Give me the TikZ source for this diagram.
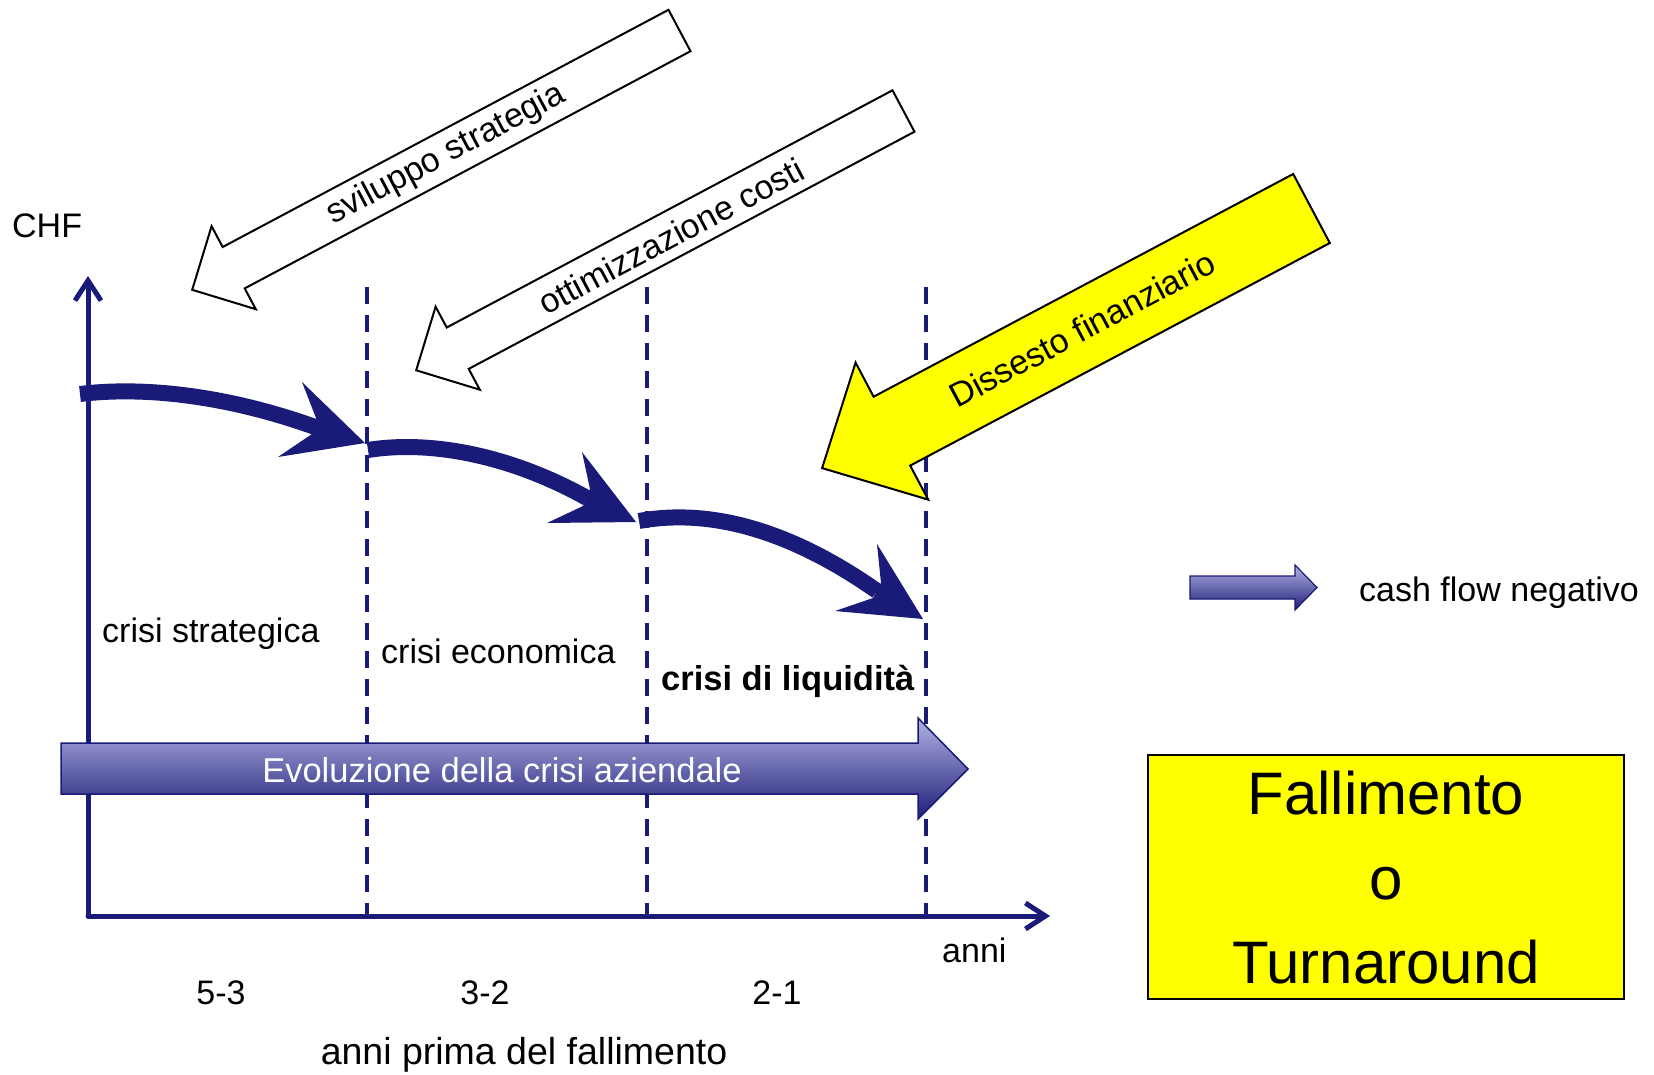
\documentclass[tikz,border=0pt]{standalone}
\usepackage{fontspec}
\setmainfont{Liberation Sans}
\usetikzlibrary{arrows.meta}
\definecolor{navy}{RGB}{26,26,120}
\definecolor{evtop}{RGB}{178,178,228}
\definecolor{evbot}{RGB}{30,30,120}
\definecolor{yel}{RGB}{255,255,0}
\begin{document}
\begin{tikzpicture}[x=1pt,y=-1pt,
  lbl/.style={inner sep=0pt, font=\fontsize{34}{40}\selectfont},
  biglbl/.style={inner sep=0pt, font=\fontsize{60}{70}\selectfont},
  axisline/.style={draw=navy, line width=5pt, line cap=round, line join=round,
    -{Straight Barb[length=20pt,width=26pt]}},
  divider/.style={draw=navy, line width=4.3pt, dash pattern=on 17pt off 11pt},
  flowshaft/.style={draw=navy, line width=16pt},
  flowhead/.style={fill=navy},
  blockarrow/.style={draw=black, line width=2pt, line join=miter},
  bigarrow/.style={draw=navy, line width=1.5pt, top color=evtop, bottom color=evbot},
]
\useasboundingbox (0,0) rectangle (1654,1074);

% axes
\coordinate (O) at (88,916);
\coordinate (Ytop) at (88,276);
\coordinate (Xend) at (1050,916);
\draw[axisline] (O) -- (Ytop);
\draw[axisline] (O) -- (Xend);

% dividers
\coordinate (d1t) at (367,287); \coordinate (d1b) at (367,916);
\coordinate (d2t) at (647,287); \coordinate (d2b) at (647,916);
\coordinate (d3t) at (926,287); \coordinate (d3b) at (926,916);
\draw[divider] (d1t) -- (d1b);
\draw[divider] (d2t) -- (d2b);
\draw[divider] (d3t) -- (d3b);

% cash-flow curved arrows
\coordinate (s1) at (80,394);  \coordinate (e1) at (315,427);
\draw[flowshaft] (s1) .. controls (155,385) and (240,400) .. (e1);
\fill[flowhead] (365,443) -- (302,382) -- (316,418) -- (312,434) -- (278,457) -- cycle;

\coordinate (s2) at (368,450); \coordinate (e2) at (587,498);
\draw[flowshaft] (s2) .. controls (430,440) and (510,455) .. (e2);
\fill[flowhead] (636,522) -- (582,452) -- (590,489) -- (583,506) -- (547,523) -- cycle;

\coordinate (s3) at (639,521); \coordinate (e3) at (877,591);
\draw[flowshaft] (s3) .. controls (710,508) and (790,530) .. (e3);
\fill[flowhead] (923,619) -- (877,544) -- (881,583) -- (873,598) -- (835,611) -- cycle;

% evolution arrow
\draw[bigarrow] (61,743) -- (918,743) -- (918,718) -- (968,769) -- (918,819) -- (918,794) -- (61,794) -- cycle;
\node[lbl, text=white, anchor=base, font=\fontsize{34.5}{40}\selectfont] (evo) at (502,782) {Evoluzione della crisi aziendale};

% legend arrow
\draw[bigarrow, line width=1.2pt] (1190,576) -- (1295,576) -- (1295,565) -- (1317,587.5) -- (1295,610) -- (1295,599) -- (1190,599) -- cycle;
\node[lbl, anchor=base west] (cfn) at (1359,601) {cash flow negativo};

% white block arrows
\draw[blockarrow, fill=white] (668.5,9.8) -- (690.5,51.2) -- (244.7,288.4) -- (255.8,309.2) -- (192.2,289.8) -- (211.6,226.2) -- (222.7,247.0) -- cycle;
\node[lbl, rotate=28] (svs) at (446,155) {sviluppo strategia};

\draw[blockarrow, fill=white] (892.5,90.3) -- (914.5,131.7) -- (468.7,368.9) -- (479.8,389.7) -- (416.2,370.3) -- (435.6,306.7) -- (446.7,327.5) -- cycle;
\node[lbl, rotate=28] (ott) at (671,236) {ottimizzazione costi};

% yellow block arrow
\draw[blockarrow, fill=yel] (1293.2,174.0) -- (1329.8,243.0) -- (910.2,465.6) -- (928.2,499.6) -- (822.1,468.1) -- (855.6,362.6) -- (873.6,396.7) -- cycle;
\node[lbl, rotate=28] (dis) at (1082,329) {Dissesto finanziario};

% labels
\node[lbl, anchor=base west] (chf) at (12,237) {CHF};
\node[lbl, anchor=base west] (cs) at (102,642) {crisi strategica};
\node[lbl, anchor=base west] (ce) at (381,663) {crisi economica};
\node[lbl, anchor=base west, font=\fontsize{34.5}{40}\selectfont\bfseries] (cl) at (661,690) {crisi di liquidità};
\node[lbl, anchor=base west] (anni) at (942,962) {anni};
\node[lbl, anchor=base] (y53) at (221,1004) {5-3};
\node[lbl, anchor=base] (y32) at (485,1004) {3-2};
\node[lbl, anchor=base] (y21) at (777,1004) {2-1};
\node[lbl, anchor=base, font=\fontsize{37.5}{40}\selectfont] (apf) at (524,1064) {anni prima del fallimento};

% outcome box
\node[draw=black, line width=2pt, fill=yel, minimum width=476pt, minimum height=244pt, inner sep=0pt] (box) at (1386,877) {};
\node[biglbl, anchor=base] (f1) at (1386,814) {Fallimento};
\node[biglbl, anchor=base] (f2) at (1386,899) {o};
\node[biglbl, anchor=base] (f3) at (1386,983) {Turnaround};
\end{tikzpicture}
\end{document}
